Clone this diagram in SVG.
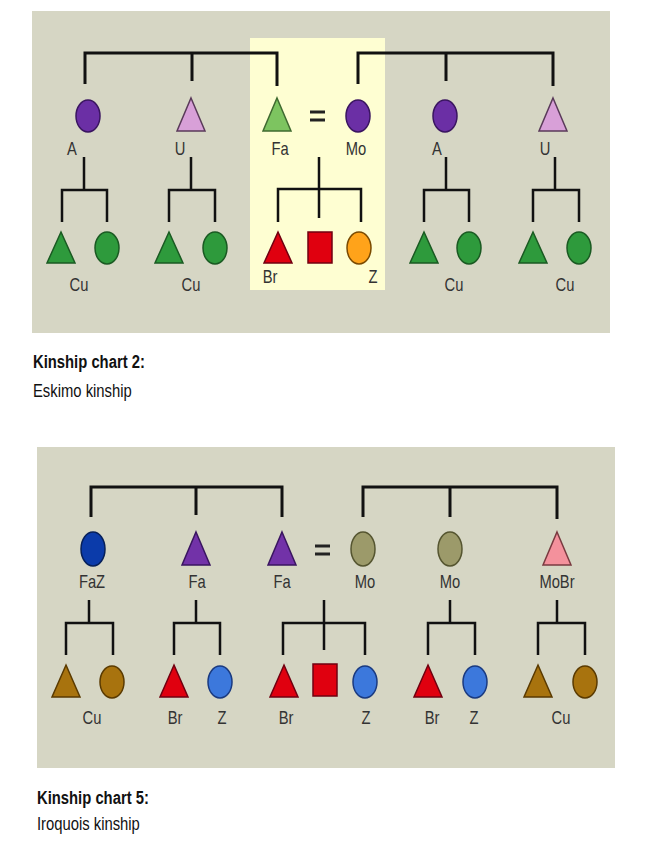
<svg xmlns="http://www.w3.org/2000/svg" width="655" height="848" viewBox="0 0 655 848">
<style>
.lbl{font-family:"Liberation Sans",Arial,sans-serif;font-size:18px;fill:#333;text-anchor:middle}
.cap{font-family:"Liberation Sans",Arial,sans-serif;font-size:19px;fill:#111}
.capb{font-weight:bold}
.ln{fill:none;stroke:#111;stroke-width:3}
.ln2{fill:none;stroke:#111;stroke-width:2.5}
.eq{stroke:#222;stroke-width:3}
.purple{fill:#6B2FA5;stroke:#3a1560;stroke-width:1.5}
.pink{fill:#D8A0D8;stroke:#5a3a5a;stroke-width:1.5}
.lgreen{fill:#7DC460;stroke:#3f6a30;stroke-width:1.5}
.green{fill:#2E9A3C;stroke:#1a5a22;stroke-width:1.5}
.red{fill:#E0000F;stroke:#700010;stroke-width:1.5}
.orange{fill:#FFA31A;stroke:#7a4a00;stroke-width:1.5}
.dblue{fill:#0B3BAA;stroke:#06205a;stroke-width:1.5}
.vtri{fill:#7232A8;stroke:#3a1560;stroke-width:1.5}
.olive{fill:#9C9A6A;stroke:#555530;stroke-width:1.5}
.rose{fill:#F4919C;stroke:#7a3a40;stroke-width:1.5}
.brown{fill:#A8730E;stroke:#5a3a00;stroke-width:1.5}
.blue{fill:#3C78DC;stroke:#1a3a80;stroke-width:1.5}
</style>

<!-- Chart 1: Eskimo -->
<rect x="32" y="11" width="578" height="322" fill="#D6D6C4"/>
<rect x="250" y="38" width="135" height="252" fill="#FEFED2"/>

<g id="connectors1">
  <path class="ln" d="M85 84 V53 H277 V86 M192 53 V81"/>
  <path class="ln" d="M358 84 V53 H553 V86 M446 53 V81"/>
  <path class="ln2" d="M84 157 V190 M62 222 V190 H107 V222"/>
  <path class="ln2" d="M191 157 V190 M169 222 V190 H215 V222"/>
  <path class="ln2" d="M319 157 V218 M278 222 V189 H361 V222"/>
  <path class="ln2" d="M446 157 V190 M424 222 V190 H469 V222"/>
  <path class="ln2" d="M555 157 V190 M533 222 V190 H579 V222"/>
</g>

<g id="e-aunt1"><ellipse class="purple" cx="88" cy="116" rx="12" ry="16"/><text class="lbl" transform="translate(72 155) scale(.82 1)">A</text></g>
<g id="e-uncle1"><polygon class="pink" points="191,98 205,131 177,131"/><text class="lbl" transform="translate(180 155) scale(.82 1)">U</text></g>
<g id="e-father"><polygon class="lgreen" points="277,98 291,131 263,131"/><text class="lbl" transform="translate(280 155) scale(.82 1)">Fa</text></g>
<g id="e-equals"><line class="eq" x1="310" y1="112" x2="325" y2="112"/><line class="eq" x1="310" y1="120" x2="325" y2="120"/></g>
<g id="e-mother"><ellipse class="purple" cx="358" cy="116" rx="12" ry="16"/><text class="lbl" transform="translate(356 155) scale(.82 1)">Mo</text></g>
<g id="e-aunt2"><ellipse class="purple" cx="445" cy="116" rx="12" ry="16"/><text class="lbl" transform="translate(437 155) scale(.82 1)">A</text></g>
<g id="e-uncle2"><polygon class="pink" points="553,98 567,131 539,131"/><text class="lbl" transform="translate(545 155) scale(.82 1)">U</text></g>

<g id="e-cousins1"><polygon class="green" points="61,232 75,263 47,263"/><ellipse class="green" cx="107" cy="248" rx="12" ry="16"/><text class="lbl" transform="translate(79 291) scale(.82 1)">Cu</text></g>
<g id="e-cousins2"><polygon class="green" points="169,232 183,263 155,263"/><ellipse class="green" cx="215" cy="248" rx="12" ry="16"/><text class="lbl" transform="translate(191 291) scale(.82 1)">Cu</text></g>
<g id="e-brother"><polygon class="red" points="278,232 292,263 264,263"/><text class="lbl" transform="translate(270 283) scale(.82 1)">Br</text></g>
<g id="e-ego"><rect class="red" x="308" y="232" width="24" height="31"/></g>
<g id="e-sister"><ellipse class="orange" cx="359" cy="248" rx="12" ry="16"/><text class="lbl" transform="translate(373 283) scale(.82 1)">Z</text></g>
<g id="e-cousins3"><polygon class="green" points="424,232 438,263 410,263"/><ellipse class="green" cx="469" cy="248" rx="12" ry="16"/><text class="lbl" transform="translate(454 291) scale(.82 1)">Cu</text></g>
<g id="e-cousins4"><polygon class="green" points="533,232 547,263 519,263"/><ellipse class="green" cx="579" cy="248" rx="12" ry="16"/><text class="lbl" transform="translate(565 291) scale(.82 1)">Cu</text></g>

<text class="cap capb" transform="translate(33 368) scale(.78 1)">Kinship chart 2:</text>
<text class="cap" transform="translate(33 397) scale(.78 1)">Eskimo kinship</text>

<!-- Chart 2: Iroquois -->
<rect x="37" y="447" width="578" height="321" fill="#D6D6C4"/>

<g id="connectors2">
  <path class="ln" d="M91 517 V487 H282 V517 M196 487 V515"/>
  <path class="ln" d="M363 517 V487 H557 V519 M450 487 V517"/>
  <path class="ln2" d="M89 600 V623 M66 655 V623 H113 V655"/>
  <path class="ln2" d="M196 600 V623 M174 655 V623 H220 V655"/>
  <path class="ln2" d="M324 600 V650 M283 655 V623 H365 V655"/>
  <path class="ln2" d="M450 600 V623 M428 655 V623 H475 V655"/>
  <path class="ln2" d="M557 600 V623 M538 655 V623 H585 V655"/>
</g>

<g id="i-faz"><ellipse class="dblue" cx="93" cy="549" rx="12" ry="17"/><text class="lbl" transform="translate(92 588) scale(.82 1)">FaZ</text></g>
<g id="i-fa1"><polygon class="vtri" points="196,532 210,565 182,565"/><text class="lbl" transform="translate(197 588) scale(.82 1)">Fa</text></g>
<g id="i-fa2"><polygon class="vtri" points="282,532 296,565 268,565"/><text class="lbl" transform="translate(282 588) scale(.82 1)">Fa</text></g>
<g id="i-equals"><line class="eq" x1="315" y1="546" x2="330" y2="546"/><line class="eq" x1="315" y1="554" x2="330" y2="554"/></g>
<g id="i-mo1"><ellipse class="olive" cx="363" cy="549" rx="12" ry="17"/><text class="lbl" transform="translate(365 588) scale(.82 1)">Mo</text></g>
<g id="i-mo2"><ellipse class="olive" cx="450" cy="549" rx="12" ry="17"/><text class="lbl" transform="translate(450 588) scale(.82 1)">Mo</text></g>
<g id="i-mobr"><polygon class="rose" points="557,532 571,565 543,565"/><text class="lbl" transform="translate(557 588) scale(.82 1)">MoBr</text></g>

<g id="i-cousins1"><polygon class="brown" points="66,665 80,697 52,697"/><ellipse class="brown" cx="112" cy="682" rx="12" ry="16"/><text class="lbl" transform="translate(92 724) scale(.82 1)">Cu</text></g>
<g id="i-sibs1"><polygon class="red" points="174,665 188,697 160,697"/><ellipse class="blue" cx="220" cy="682" rx="12" ry="16"/><text class="lbl" transform="translate(175 724) scale(.82 1)">Br</text><text class="lbl" transform="translate(222 724) scale(.82 1)">Z</text></g>
<g id="i-sibs2"><polygon class="red" points="284,665 298,697 270,697"/><rect class="red" x="313" y="664" width="24" height="32"/><ellipse class="blue" cx="365" cy="682" rx="12" ry="16"/><text class="lbl" transform="translate(286 724) scale(.82 1)">Br</text><text class="lbl" transform="translate(366 724) scale(.82 1)">Z</text></g>
<g id="i-sibs3"><polygon class="red" points="428,665 442,697 414,697"/><ellipse class="blue" cx="475" cy="682" rx="12" ry="16"/><text class="lbl" transform="translate(432 724) scale(.82 1)">Br</text><text class="lbl" transform="translate(474 724) scale(.82 1)">Z</text></g>
<g id="i-cousins2"><polygon class="brown" points="538,665 552,697 524,697"/><ellipse class="brown" cx="585" cy="682" rx="12" ry="16"/><text class="lbl" transform="translate(561 724) scale(.82 1)">Cu</text></g>

<text class="cap capb" transform="translate(37 804) scale(.78 1)">Kinship chart 5:</text>
<text class="cap" transform="translate(37 830) scale(.78 1)">Iroquois kinship</text>
</svg>
